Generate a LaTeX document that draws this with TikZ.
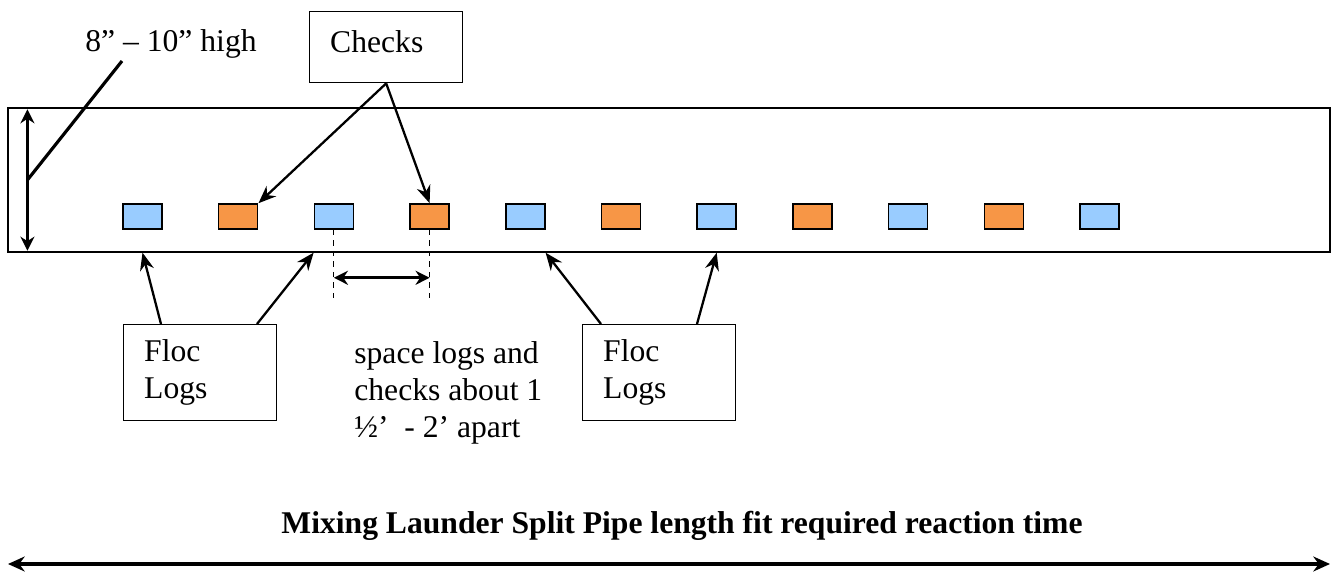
\documentclass[tikz,border=0pt]{standalone}
\usepackage{fontspec}
\setmainfont{Liberation Serif}
\definecolor{logblue}{RGB}{153, 204, 255}
\definecolor{checkorange}{RGB}{247, 150, 70}
\usetikzlibrary{arrows.meta, positioning, calc}

\begin{document}
\begin{tikzpicture}[
                x=0.02cm, y=-0.02cm,
                every node/.style={font=\fontsize{18}{21}\selectfont},
                trough/.style={rectangle, draw, line width=0.8pt, minimum width=26.44cm, minimum height=2.88cm},
                block/.style={rectangle, draw, line width=0.9pt, minimum width=0.78cm, minimum height=0.5cm},
                callout/.style={rectangle, draw, line width=0.8pt, anchor=north west, inner xsep=0.41cm, text width=2.24cm, align=left},
                pointer/.style={-{Stealth[length=10pt, width=8pt]}, line width=1.3pt},
                dimarrow/.style={{Stealth[length=8pt, width=8pt]}-{Stealth[length=8pt, width=8pt]}, line width=1.7pt},
                longarrow/.style={{Stealth[length=9.5pt, width=8.5pt]}-{Stealth[length=9.5pt, width=8.5pt]}, line width=1.9pt},
                dimline/.style={dashed, line width=0.6pt}
            ]
                \useasboundingbox (0,0) rectangle (1334,573);
                \node[trough] (launder) at (669,180) {};
                % logs and checks alternate along the launder
                \foreach \i [evaluate=\i as \xc using 142.5+95.7*\i] in {0,...,10} {
                    \ifodd\i \def\blockfill{checkorange}\else \def\blockfill{logblue}\fi
                    \node[block, fill=\blockfill] (sq\i) at (\xc,216.5) {};
                }
                % height
                \draw[dimarrow] ($(launder.north west)+(20,2)$) -- ($(launder.south west)+(20,-2)$);
                \coordinate (hightip) at (122,61);
                \draw[line width=1.8pt] ($(launder.west)+(20,0)$) -- (hightip);
                \node[anchor=base] (hlabel) at (171,52) {8” – 10” high};
                % callouts
                \node[callout, text height=0.82cm, text depth=0.6cm, inner ysep=0pt] (checks) at (309,11) {Checks};
                \node[callout, minimum height=1.92cm] (floc1) at (123,324) {Floc\\Logs};
                \node[callout, minimum height=1.92cm] (floc2) at (582,324) {Floc\\Logs};
                \draw[pointer] (checks.south) -- (sq1.north east);
                \draw[pointer] (checks.south) -- (sq3.north);
                \draw[pointer] ($(floc1.north west)+(38,0)$) -- (sq0 |- launder.south);
                \draw[pointer] ($(floc1.north west)+(134,0)$) -- (sq2.west |- launder.south);
                \draw[pointer] ($(floc2.north west)+(19,0)$) -- (sq4.east |- launder.south);
                \draw[pointer] ($(floc2.north west)+(115,0)$) -- (sq6 |- launder.south);
                % spacing
                \draw[dimline] (sq2.south) -- ++(0,71) coordinate (gapA);
                \draw[dimline] (sq3.south) -- ++(0,71) coordinate (gapB);
                \draw[dimarrow] ($(sq2.south)+(0,48)$) -- ($(sq3.south)+(0,48)$);
                \node[anchor=north west, inner sep=0pt, align=left] (spacing) at (354,341.4) {space logs and\\checks about 1\\½’~~- 2’ apart};
                % overall length
                \node[anchor=base, font=\fontsize{18}{21}\selectfont\bfseries] (title) at (682,533) {Mixing Launder Split Pipe length fit required reaction time};
                \coordinate (lenL) at (8,564);
                \coordinate (lenR) at (1330,564);
                \draw[longarrow] (lenL) -- (lenR);
            \end{tikzpicture}
\end{document}
